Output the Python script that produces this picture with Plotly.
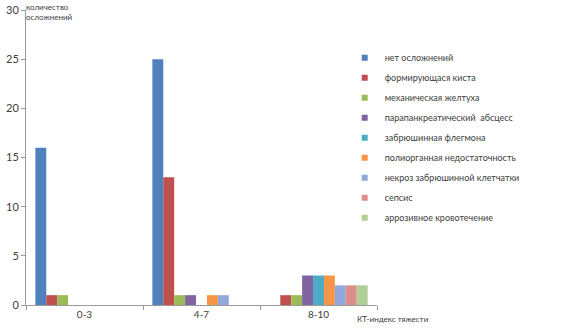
import plotly.graph_objects as go

categories = ["0-3", "4-7", "8-10"]
series_names = [
    "нет осложнений",
    "формирующася киста",
    "механическая желтуха",
    "парапанкреатический  абсцесс",
    "забрюшинная флегмона",
    "полиорганная недостаточность",
    "некроз забрюшинной клетчатки",
    "сепсис",
    "аррозивное кровотечение",
]
net_oslozhneniy = [16, 25, 0]
kista = [1, 13, 1]
zheltukha = [1, 1, 1]
abscess = [0, 1, 3]
flegmona = [0, 0, 3]
poliorgan = [0, 1, 3]
nekroz = [0, 1, 2]
sepsis = [0, 0, 2]
krovotechenie = [0, 0, 2]
series_values = [net_oslozhneniy, kista, zheltukha, abscess, flegmona,
                 poliorgan, nekroz, sepsis, krovotechenie]
colors = ["#4F81BD", "#C0504D", "#9BBB59", "#8064A2", "#4BACC6",
          "#F79646", "#92A9DB", "#DA8F8D", "#AFCF95"]

fig = go.Figure()
for name, vals, c in zip(series_names, series_values, colors):
    fig.add_trace(go.Bar(x=categories, y=vals, name=name, marker_color=c,
                         marker_line_width=0, legendgroup=name,
                         showlegend=False))
# legend entries with small square swatches
for name, c in zip(series_names, colors):
    fig.add_trace(go.Scatter(x=[None], y=[None], mode="markers", name=name,
                             marker=dict(symbol="square", size=6, color=c),
                             legendgroup=name, showlegend=True))

font_family = "Lato, Open Sans, sans-serif"
fig.update_layout(
    width=563, height=330,
    margin=dict(l=26, r=186, t=10, b=25, autoexpand=False),
    paper_bgcolor="white", plot_bgcolor="white",
    barmode="group", bargap=0.16, bargroupgap=0,
    font=dict(family=font_family, size=11, color="#404040"),
    showlegend=True,
    legend=dict(x=0.908, y=0.887, xanchor="left", yanchor="top",
                font=dict(size=9, color="#404040"),
                tracegroupgap=1, itemwidth=30,
                bgcolor="rgba(0,0,0,0)"),
    xaxis=dict(showline=True, linecolor="#9a9a9a", linewidth=1,
               ticks="outside", tickson="boundaries", ticklen=4,
               tickcolor="#9a9a9a", showgrid=False, automargin=False,
               categoryorder="array", categoryarray=categories,
               tickfont=dict(size=10, color="#404040")),
    yaxis=dict(range=[0, 30], dtick=5, showline=True, linecolor="#9a9a9a",
               linewidth=1, ticks="outside", ticklen=4, tickcolor="#9a9a9a",
               showgrid=False, zeroline=False, automargin=False,
               tickfont=dict(size=11, color="#404040")),
    annotations=[
        dict(text="количество<br>осложнений", x=0, y=1.035, xref="paper",
             yref="paper", xanchor="left", yanchor="top", showarrow=False,
             font=dict(size=8, color="#404040"), align="left", xshift=-2),
        dict(text="КТ-индекс тяжести", x=1.0, y=0, xref="paper",
             yref="paper", xanchor="left", yanchor="top", showarrow=False,
             font=dict(size=8, color="#404040"), yshift=-7, xshift=-22),
    ],
)
fig.write_html("out.html",
               config={"displayModeBar": False},
               post_script="document.body.style.margin='0';"
                           "document.body.style.overflow='hidden';")
